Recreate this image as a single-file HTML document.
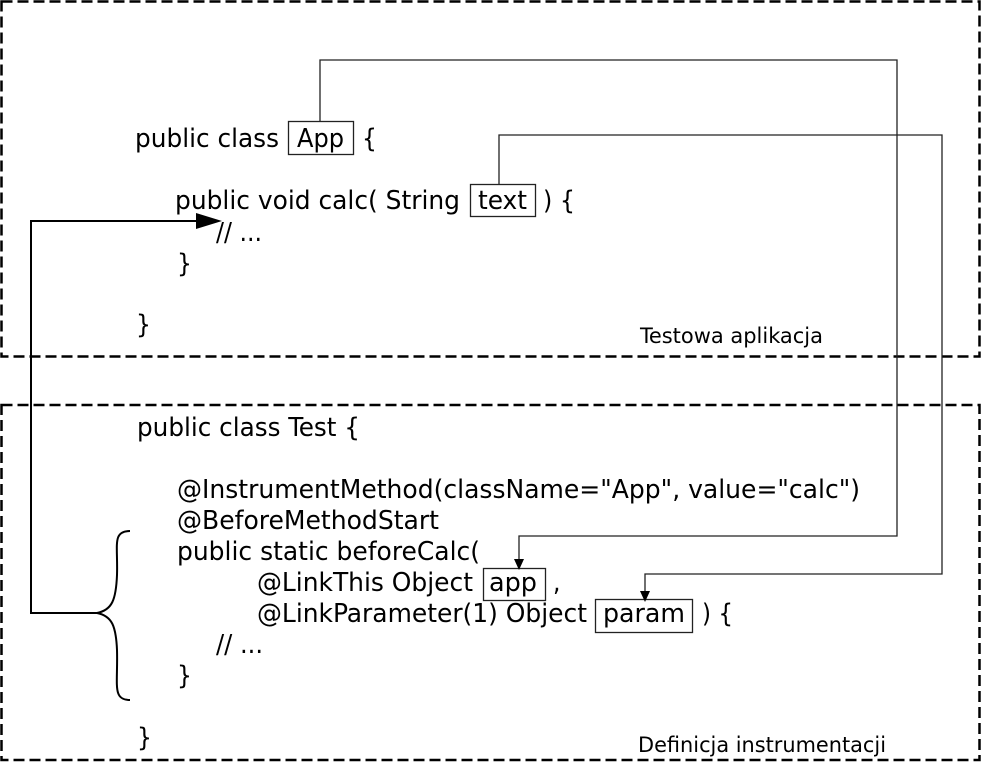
<!DOCTYPE html>
<html><head><meta charset="utf-8"><style>
html,body{margin:0;padding:0;background:#fff;}
svg{display:block;}
text{font-family:"DejaVu Sans Condensed","DejaVu Sans","Liberation Sans",sans-serif;fill:#000;}
.c{font-size:26px;}
.l{font-size:21px;}
</style></head><body>
<svg width="982" height="762" viewBox="0 0 982 762" xmlns="http://www.w3.org/2000/svg">
<rect x="1.5" y="1.5" width="978" height="355" fill="none" stroke="#000" stroke-width="2.5" stroke-dasharray="11,5"/>
<rect x="1.5" y="405" width="978" height="355" fill="none" stroke="#000" stroke-width="2.5" stroke-dasharray="11,5"/>

<g fill="none" stroke="#222" stroke-width="1.3">
<polyline points="320,121 320,60 897,60 897,536 519,536 519,562"/>
<polyline points="499,184 499,135 942,135 942,574 645,574 645,596"/>
<rect x="288.5" y="121.5" width="65" height="33"/>
<rect x="470.5" y="184.5" width="65" height="32"/>
<rect x="483.5" y="568.5" width="62" height="32"/>
<rect x="595.5" y="599.5" width="97" height="33"/>
</g>
<polygon points="514,559 524,559 519,570" fill="#000"/>
<polygon points="640,591 650,591 645,602" fill="#000"/>

<polyline points="97,613 31,613 31,221 200,221" fill="none" stroke="#000" stroke-width="2"/>
<polygon points="196,213 222,221 196,229" fill="#000"/>
<path d="M130,531 C112,531 118,545 117,575 C116,600 112,610 97,613 C112,616 116,626 117,650 C118,685 112,700 130,700" fill="none" stroke="#000" stroke-width="2"/>

<g class="c">
<text x="135" y="147" textLength="144" lengthAdjust="spacingAndGlyphs">public class</text>
<text x="297" y="147" textLength="47" lengthAdjust="spacingAndGlyphs">App</text>
<text x="362" y="147">{</text>
<text x="175" y="209" textLength="285" lengthAdjust="spacingAndGlyphs">public void calc( String</text>
<text x="478" y="209" textLength="49" lengthAdjust="spacingAndGlyphs">text</text>
<text x="543" y="209" textLength="32" lengthAdjust="spacingAndGlyphs">) {</text>
<text x="216" y="241" textLength="46" lengthAdjust="spacingAndGlyphs">// ...</text>
<text x="177" y="272">}</text>
<text x="136" y="333">}</text>

<text x="137" y="436" textLength="223" lengthAdjust="spacingAndGlyphs">public class Test {</text>
<text x="177" y="498" textLength="683" lengthAdjust="spacingAndGlyphs">@InstrumentMethod(className="App", value="calc")</text>
<text x="177" y="529" textLength="262" lengthAdjust="spacingAndGlyphs">@BeforeMethodStart</text>
<text x="177" y="560" textLength="303" lengthAdjust="spacingAndGlyphs">public static beforeCalc(</text>
<text x="257" y="591" textLength="216" lengthAdjust="spacingAndGlyphs">@LinkThis Object</text>
<text x="489" y="591" textLength="48" lengthAdjust="spacingAndGlyphs">app</text>
<text x="553" y="591">,</text>
<text x="257" y="622" textLength="330" lengthAdjust="spacingAndGlyphs">@LinkParameter(1) Object</text>
<text x="603" y="622" textLength="82" lengthAdjust="spacingAndGlyphs">param</text>
<text x="702" y="622" textLength="31" lengthAdjust="spacingAndGlyphs">) {</text>
<text x="216" y="653" textLength="47" lengthAdjust="spacingAndGlyphs">// ...</text>
<text x="177" y="684">}</text>
<text x="137" y="746">}</text>
</g>
<text class="l" x="640" y="343" textLength="183" lengthAdjust="spacingAndGlyphs">Testowa aplikacja</text>
<text class="l" x="638" y="752" textLength="248" lengthAdjust="spacingAndGlyphs">Definicja instrumentacji</text>
</svg>
</body></html>
